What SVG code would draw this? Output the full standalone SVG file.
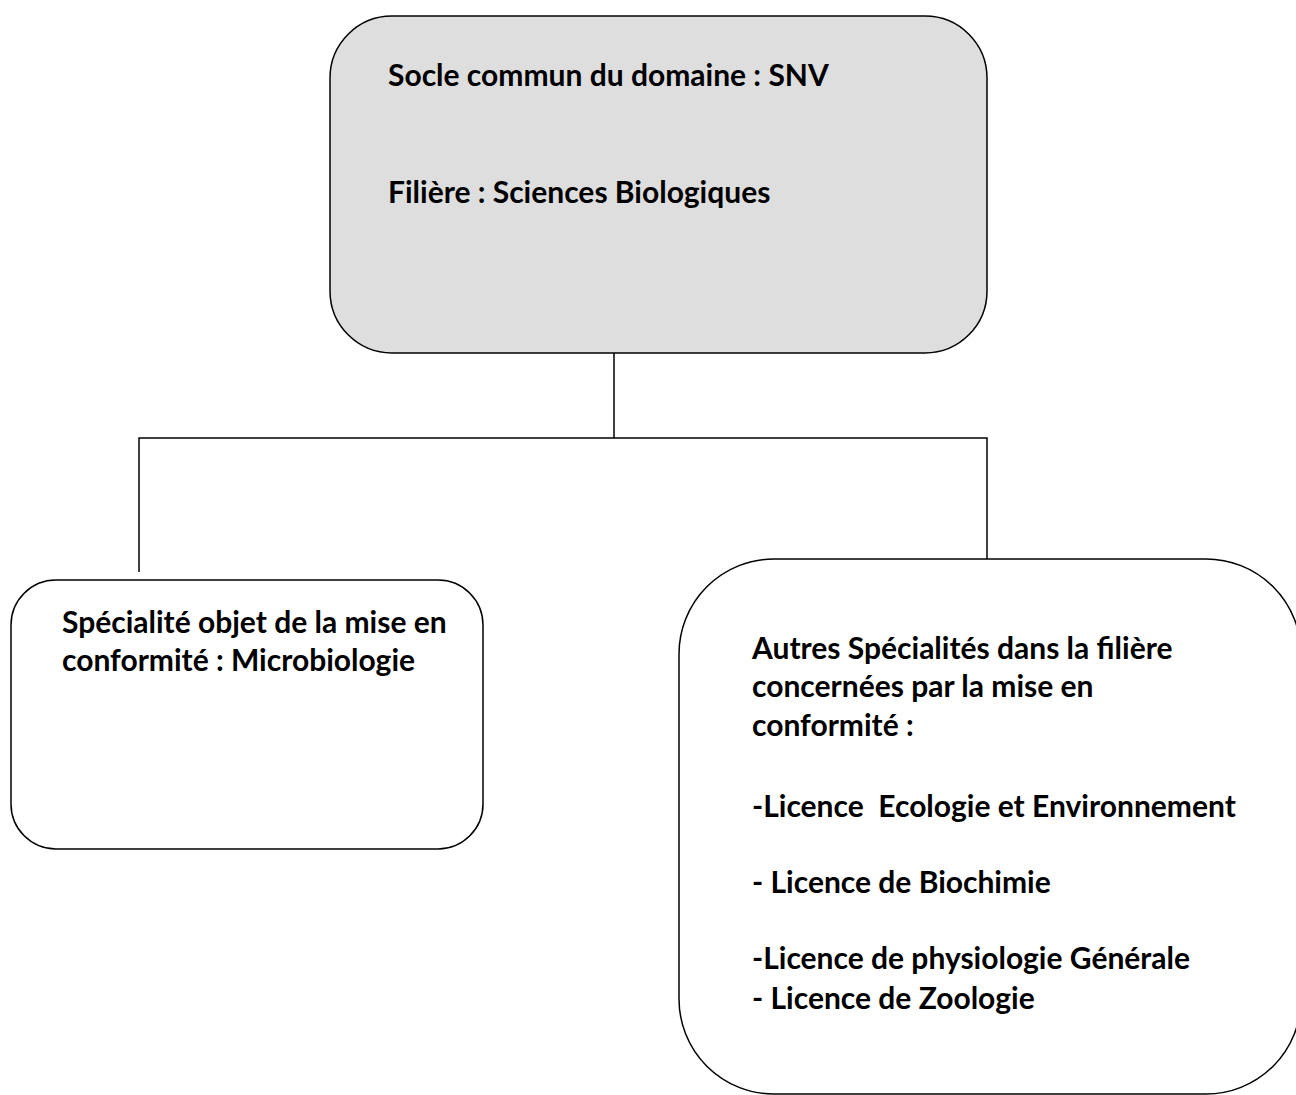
<svg xmlns="http://www.w3.org/2000/svg" width="1296" height="1095" viewBox="0 0 1296 1095">
<style>
.box{stroke:#000;stroke-width:1.5;fill:#fff}
.top{fill:#dedede}
.t{font-family:Lato,"Open Sans","Liberation Sans",sans-serif;font-weight:bold;font-size:30px;fill:#000}
.c{stroke:#000;stroke-width:1.5;fill:none}
</style>
<rect width="1296" height="1095" fill="#fff"/>
<g id="connectors">
<path class="c" d="M614 353V438M139 572V438H987V559"/>
</g>
<g id="node-socle">
<rect class="box top" x="330" y="16" width="657" height="337" rx="62" ry="62"/>
<text class="t" x="388" y="86">Socle commun du domaine : SNV</text>
<text class="t" x="388" y="203">Filière : Sciences Biologiques</text>
</g>
<g id="node-microbiologie">
<rect class="box" x="11" y="580" width="472" height="269" rx="45" ry="45"/>
<text class="t" x="62" y="633">Spécialité objet de la mise en</text>
<text class="t" x="62" y="671">conformité : Microbiologie</text>
</g>
<g id="node-autres">
<rect class="box" x="679" y="559" width="622" height="535" rx="95" ry="95"/>
<text class="t" x="752" y="659">Autres Spécialités dans la filière</text>
<text class="t" x="752" y="697">concernées par la mise en</text>
<text class="t" x="752" y="736">conformité :</text>
<text class="t" x="752" y="817" xml:space="preserve">-Licence  Ecologie et Environnement</text>
<text class="t" x="752" y="893">- Licence de Biochimie</text>
<text class="t" x="752" y="969">-Licence de physiologie Générale</text>
<text class="t" x="752" y="1009">- Licence de Zoologie</text>
</g>
</svg>
